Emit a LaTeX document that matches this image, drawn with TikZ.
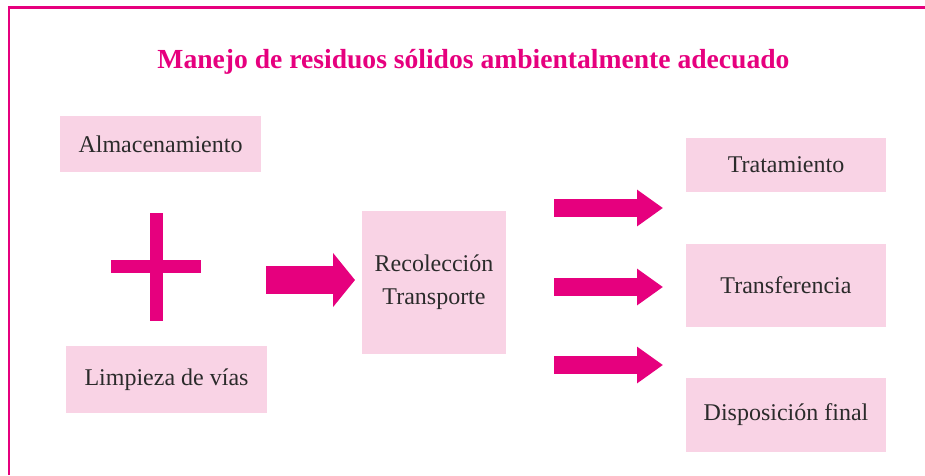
\documentclass[tikz,border=0pt]{standalone}
\usepackage{fontspec}
\setmainfont{Liberation Serif}
\usetikzlibrary{arrows.meta}
\definecolor{rosa}{HTML}{E6007E}
\definecolor{rosaclaro}{HTML}{F9D3E5}
\definecolor{texto}{HTML}{2B2B2B}
\begin{document}
\begin{tikzpicture}[x=1pt, y=-1pt,
		caja/.style = {fill=rosaclaro, text=texto, inner sep=0pt, align=center, font=\fontsize{24}{33}\selectfont},
		flecha/.style = {draw=rosa, line width=18pt, -{Triangle[length=26pt, width=35pt]}},
		flechagrande/.style = {draw=rosa, line width=28pt, -{Triangle[length=22pt, width=53pt]}},
		cruz/.style = {draw=rosa, line width=13pt}]
			\useasboundingbox (0,0) rectangle (925,475);
			\draw[rosa, line width=2.5pt] (9,475) -- (9,7.5) -- (925,7.5);
			\node[text=rosa, font=\fontsize{27.6}{33}\selectfont\bfseries, anchor=base] (titulo) at (473.5,68) {Manejo de residuos sólidos ambientalmente adecuado};
			\node[caja, minimum width=201pt, minimum height=56pt] (alm) at (160.5,144) {Almacenamiento};
			\node[caja, minimum width=201pt, minimum height=67pt] (lim) at (166.5,379.5) {Limpieza de vías};
			\node[caja, minimum width=144pt, minimum height=143pt] (rec) at (434,282.5) {Recolección\\Transporte};
			\node[caja, minimum width=200pt, minimum height=54pt] (tra) at (786,165) {Tratamiento};
			\node[caja, minimum width=200pt, minimum height=83pt] (trf) at (786,285.5) {Transferencia};
			\node[caja, minimum width=200pt, minimum height=74pt] (dis) at (786,415) {Disposición final};

			\coordinate (cruzN) at (156,213);
			\coordinate (cruzS) at (156,321);
			\coordinate (cruzO) at (111,266);
			\coordinate (cruzE) at (201,266);
			\coordinate (f0a) at (266,280);
			\coordinate (f0b) at (355,280);
			\coordinate (f1a) at (554,208);
			\coordinate (f1b) at (663,208);
			\coordinate (f2a) at (554,287);
			\coordinate (f2b) at (663,287);
			\coordinate (f3a) at (554,365);
			\coordinate (f3b) at (663,365);

			\draw[cruz] (cruzN) -- (cruzS)
			(cruzO) -- (cruzE);
			\draw[flechagrande] (f0a) -- (f0b);
			\draw[flecha] (f1a) -- (f1b);
			\draw[flecha] (f2a) -- (f2b);
			\draw[flecha] (f3a) -- (f3b);
		\end{tikzpicture}
\end{document}
